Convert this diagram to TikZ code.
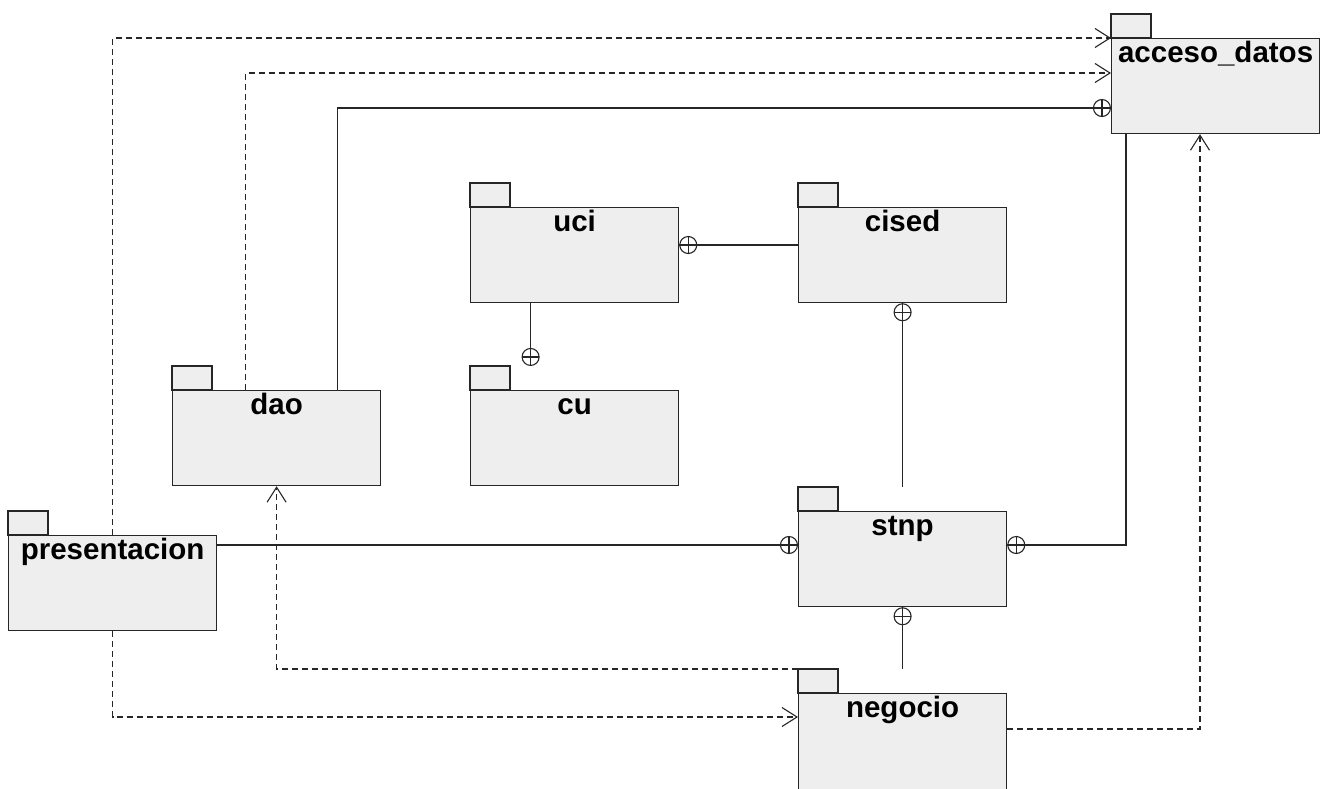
\documentclass[tikz,border=0pt]{standalone}
\usepackage{fontspec}
\setmainfont{Liberation Sans}
\usetikzlibrary{calc,arrows.meta}
\definecolor{gris}{HTML}{EEEEEE}
\begin{document}
\begin{tikzpicture}[x=1pt,y=-1pt]
			% Styles
			\tikzstyle{paquete}=[draw=black!85, fill=gris, line width=1.2pt, anchor=north west, minimum width=208, inner ysep=0pt, text height=24pt, text depth=71pt, font=\fontsize{29.5}{32}\selectfont\bfseries]
			\tikzstyle{pestana}=[draw=black!85, fill=gris, line width=1.2pt]
			\tikzstyle{linea}=[-, line width=1.1pt, black!85]
			\tikzstyle{dep}=[-{Straight Barb[length=15pt,width=19pt]}, line width=1.1pt, black!85, dash pattern=on 6pt off 4pt]
			\tikzstyle{contiene}=[circle, draw, fill=white, inner sep=0pt, minimum size=17, line width=1.1pt,
				path picture={\draw[line width=1.1pt] (path picture bounding box.north)--(path picture bounding box.south) (path picture bounding box.west)--(path picture bounding box.east);}]
			% Dimensions
			\def\ColA{8}
			\def\ColB{172}
			\def\ColC{470}
			\def\ColD{798}
			\def\ColE{1111}
			\useasboundingbox (0,0) rectangle (1320,788);
			\clip (0,0) rectangle (1320,788);
			% Noeuds
			\node[paquete] (acceso) at (\ColE,38) {acceso\_datos};
			\node[paquete] (uci) at (\ColC,207) {uci};
			\node[paquete] (cised) at (\ColD,207) {cised};
			\node[paquete] (cu) at (\ColC,390) {cu};
			\node[paquete] (dao) at (\ColB,390) {dao};
			\node[paquete] (presentacion) at (\ColA,535) {presentacion};
			\node[paquete] (stnp) at (\ColD,511) {stnp};
			\node[paquete, text depth=100pt] (negocio) at (\ColD,693) {negocio};
			\foreach \p in {acceso,uci,cised,cu,dao,presentacion,stnp,negocio}
				\draw[pestana] (\p.north west) rectangle ++(40,-24);
			% Arcs
			\draw[dep] (presentacion.north) |- (acceso.north west);
			\draw[dep] ($(dao.north)+(-31,0)$) |- ($(acceso.north west)+(0,35)$);
			\draw[linea] ($(dao.north)+(61,0)$) |- node[contiene, pos=1, anchor=east]{} ($(acceso.north west)+(0,70)$);
			\draw[linea] ($(uci.north east)+(0,38)$) node[contiene, anchor=west]{} -- ($(cised.north west)+(0,38)$);
			\draw[linea] ($(uci.south)+(-44,0)$) -- node[contiene, pos=1, anchor=south]{} ($(cu.north)+(-44,-24)$);
			\draw[linea] (cised.south) node[contiene, anchor=north]{} -- ($(stnp.north)+(0,-24)$);
			\draw[linea] ($(presentacion.north east)+(0,10)$) -- node[contiene, pos=1, anchor=east]{} ($(stnp.north west)+(0,34)$);
			\draw[linea] ($(stnp.north east)+(0,34)$) node[contiene, anchor=west]{} -| ($(acceso.south west)+(15,0)$);
			\draw[linea] (stnp.south) node[contiene, anchor=north]{} -- ($(negocio.north)+(0,-24)$);
			\draw[dep] ($(negocio.north west)+(0,-24)$) -| (dao.south);
			\draw[dep] (presentacion.south) |- ($(negocio.north west)+(0,24)$);
			\draw[dep] ($(negocio.north east)+(0,36)$) -| ($(acceso.south west)+(89,0)$);
		\end{tikzpicture}
\end{document}
